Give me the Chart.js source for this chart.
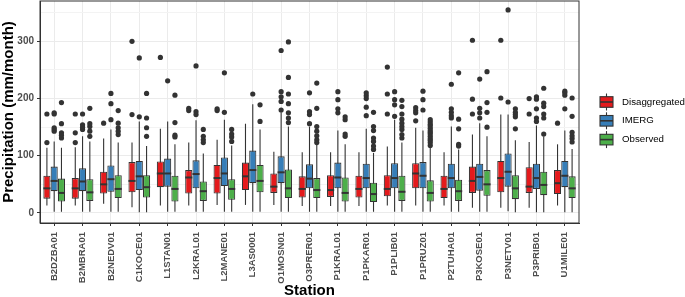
<!DOCTYPE html>
<html>
<head>
<meta charset="utf-8">
<script src="https://cdn.jsdelivr.net/npm/chart.js@4.4.0/dist/chart.umd.min.js"></script>
<style>
  html, body { margin: 0; padding: 0; background: #fff; }
  #wrap { width: 685px; height: 297px; position: relative; }
</style>
</head>
<body>
<div id="wrap"><canvas id="chart"></canvas></div>
<script>
/*
  ==================================================
  ====================== DATA ======================
  ==================================================
*/

const stations = ['B2DZBA01', 'B2MBRA01', 'B2NEDV01', 'C1KOCE01', 'L1STAN01', 'L2KRAL01', 'L2MANE01',
  'L3AS0001', 'O1MOSN01', 'O3PRER01', 'P1KRAL01', 'P1PKAR01', 'P1PLIB01', 'P1PRUZ01', 'P2TUHA01',
  'P3KOSE01', 'P3NETV01', 'P3PRIB01', 'U1MILE01'];

const seriesNames = ['Disaggregated', 'IMERG', 'Observed'];
const yTicks = [0, 50, 100, 150, 200, 250, 300, 350];

// [lower whisker, q1, median, q3, upper whisker]
const disaggregated = [
  [13, 25, 43, 65, 114], [13, 25, 43, 61, 115], [16, 34, 50, 72, 130], [10, 36, 56, 89, 123],
  [13, 45, 69, 90, 147], [13, 34, 62, 75, 123], [14, 34, 61, 84, 128], [14, 40, 64, 88, 156],
  [14, 35, 46, 69, 107], [12, 27, 42, 64, 106], [12, 28, 40, 66, 106], [12, 27, 42, 65, 106],
  [13, 29, 42, 66, 116], [13, 43, 69, 87, 149], [13, 26, 42, 65, 106], [9, 35, 56, 81, 137],
  [9, 36, 61, 91, 172], [9, 35, 46, 80, 124], [13, 33, 52, 75, 120]
];
const imerg = [
  [2, 38, 56, 81, 125], [2, 38, 55, 78, 134], [2, 37, 59, 83, 146], [1, 40, 64, 91, 160],
  [2, 46, 69, 95, 160], [2, 43, 68, 92, 162], [2, 47, 69, 97, 163], [2, 52, 75, 109, 190],
  [2, 52, 71, 99, 176], [2, 43, 60, 85, 151], [2, 43, 62, 88, 144], [2, 43, 61, 86, 147],
  [2, 43, 61, 87, 163], [2, 43, 65, 89, 144], [2, 43, 61, 86, 151], [2, 39, 63, 86, 157],
  [3, 46, 72, 104, 172], [1, 42, 61, 86, 153], [1, 45, 65, 91, 144]
];
const observed = [
  [2, 20, 35, 60, 114], [2, 21, 36, 59, 125], [2, 26, 42, 66, 123], [1, 27, 45, 66, 117],
  [2, 20, 42, 65, 120], [2, 21, 38, 55, 104], [2, 23, 42, 59, 118], [2, 36, 56, 84, 146],
  [2, 26, 43, 76, 151], [2, 26, 40, 61, 120], [2, 20, 35, 62, 120], [2, 19, 33, 53, 105],
  [2, 21, 37, 65, 123], [2, 20, 35, 57, 114], [2, 21, 38, 58, 111], [2, 30, 50, 75, 134],
  [1, 24, 43, 66, 127], [1, 31, 49, 72, 134], [1, 26, 43, 64, 112]
];

const disaggregatedOut = [
  [123, 173], [123, 140, 173], [157], [172, 300], [272], [179, 183], [179, 182], [], [], [], [], [],
  [173, 208, 255], [161, 175, 179, 184], [], [173, 199, 302], [201, 302], [173, 200], [157]
];
const imergOut = [
  [143, 146, 149, 173, 175], [146, 150, 154, 173], [163, 191, 209], [168, 271], [231], [172, 177, 257],
  [176, 245], [208], [180, 195, 203, 212, 284], [156, 172, 177, 210], [175, 182, 198, 212],
  [170, 185, 200, 205, 210], [169, 189, 198, 212], [180, 198, 213], [166, 170, 176, 182, 225],
  [166, 175, 183, 234], [194, 355], [160, 166, 182, 199, 203], [182, 206, 210, 213]
];
const observedOut = [
  [131, 136, 140, 156, 193], [134, 143, 151, 156, 183], [137, 143, 149, 157, 179], [134, 149, 166, 209],
  [133, 136, 158, 206], [123, 128, 134, 146], [125, 133, 138, 146], [160, 189],
  [158, 166, 175, 191, 208, 237, 299], [123, 128, 135, 143, 151, 183, 227], [134, 138, 163, 168],
  [111, 117, 125, 131, 144, 151, 176], [131, 137, 146, 151, 157, 164, 173, 186, 197],
  [118, 123, 127, 130, 134, 138, 141, 144, 148, 152, 155, 159, 163], [117, 120, 147, 164, 245],
  [150, 176, 193, 247], [147, 168, 172, 176, 182], [138, 166, 173, 186, 192, 218],
  [124, 130, 135, 141, 169, 201]
];

/*
  ==================================================
  ===================== CHART ======================
  ==================================================
*/

const colors = ['#E41A1C', '#377EB8', '#4DAF4A'];
const stats = [disaggregated, imerg, observed];
const outliers = [disaggregatedOut, imergOut, observedOut];
const ink = '#333333';

Chart.defaults.font.family = '"Liberation Sans", Arial, sans-serif';

let boxParts = {
  id: 'boxParts',
  beforeDatasetsDraw(chart) {
    let { ctx } = chart;
    let y = chart.scales.y;
    ctx.save();
    ctx.strokeStyle = ink;
    ctx.lineWidth = 1.1;
    stats.forEach((rows, i) => {
      chart.getDatasetMeta(i).data.forEach((bar, j) => {
        let [lo, , , , hi] = rows[j];
        ctx.beginPath();
        ctx.moveTo(bar.x, y.getPixelForValue(lo));
        ctx.lineTo(bar.x, y.getPixelForValue(hi));
        ctx.stroke();
      });
    });
    ctx.restore();
  },
  afterDatasetsDraw(chart) {
    let { ctx } = chart;
    let y = chart.scales.y;
    ctx.save();
    ctx.strokeStyle = ink;
    ctx.fillStyle = ink;
    stats.forEach((rows, i) => {
      chart.getDatasetMeta(i).data.forEach((bar, j) => {
        let med = y.getPixelForValue(rows[j][2]);
        ctx.lineWidth = 2;
        ctx.beginPath();
        ctx.moveTo(bar.x - bar.width / 2, med);
        ctx.lineTo(bar.x + bar.width / 2, med);
        ctx.stroke();

        outliers[i][j].forEach(v => {
          ctx.beginPath();
          ctx.arc(bar.x, y.getPixelForValue(v), 2.6, 0, Math.PI * 2);
          ctx.fill();
        });
      });
    });
    ctx.restore();
  },
  afterDraw(chart) {
    let { ctx, chartArea: a } = chart;
    ctx.save();
    // panel border
    ctx.strokeStyle = ink;
    ctx.lineWidth = 1;
    ctx.strokeRect(a.left, a.top, a.right - a.left, a.bottom - a.top);

    // legend
    let keyX = a.right + 21, keyW = 13;
    seriesNames.forEach((name, i) => {
      let yc = 102 + i * 18.8;
      ctx.strokeStyle = ink;
      ctx.lineWidth = 1.1;
      ctx.beginPath();
      ctx.moveTo(keyX + keyW / 2, yc - 8.5);
      ctx.lineTo(keyX + keyW / 2, yc + 8.5);
      ctx.stroke();
      ctx.fillStyle = colors[i];
      ctx.fillRect(keyX, yc - 5.3, keyW, 10.6);
      ctx.strokeRect(keyX, yc - 5.3, keyW, 10.6);
      ctx.lineWidth = 1.6;
      ctx.beginPath();
      ctx.moveTo(keyX, yc);
      ctx.lineTo(keyX + keyW, yc);
      ctx.stroke();

      ctx.fillStyle = '#000';
      ctx.font = '9.7px "Liberation Sans", Arial, sans-serif';
      ctx.textBaseline = 'middle';
      ctx.textAlign = 'left';
      ctx.fillText(name, keyX + keyW + 9, yc);
    });
    ctx.restore();
  }
};

new Chart(document.getElementById('chart'), {
  type: 'bar',
  data: {
    labels: stations,
    datasets: seriesNames.map((name, i) => ({
      label: name,
      data: stats[i].map(r => [r[1], r[3]]),
      backgroundColor: colors[i],
      borderColor: ink,
      borderWidth: 1.1,
      borderSkipped: false,
      categoryPercentage: 0.77,
      barPercentage: 0.98
    }))
  },
  options: {
    responsive: true,
    maintainAspectRatio: false,
    animation: false,
    layout: { padding: { top: 1, right: 106, left: 0, bottom: 0 } },
    plugins: {
      legend: { display: false },
      tooltip: { enabled: false }
    },
    scales: {
      x: {
        grid: { offset: false, color: '#EBEBEB', lineWidth: 1, tickColor: ink, tickLength: 3 },
        border: { display: true, color: ink },
        ticks: {
          autoSkip: false, minRotation: 90, maxRotation: 90, padding: 6,
          color: '#4D4D4D', font: { size: 9.5, weight: 'bold' }
        },
        title: {
          display: true, text: 'Station', color: '#000',
          font: { size: 15, weight: 'bold' }, padding: { top: 0, bottom: -3 }
        },
        afterFit: s => { s.height = 74; s.paddingLeft = 0; s.paddingRight = 0; }
      },
      y: {
        min: -17.6,
        max: 370.6,
        afterBuildTicks: axis => { axis.ticks = yTicks.map(v => ({ value: v })); },
        grid: {
          color: c => c.tick && c.tick.value % 100 === 0 ? '#EBEBEB' : '#F3F3F3',
          tickColor: c => c.tick && c.tick.value % 100 === 0 ? ink : 'rgba(0,0,0,0)',
          tickLength: 3
        },
        border: { display: true, color: ink },
        ticks: {
          padding: 3, color: '#4D4D4D', font: { size: 10, weight: 'bold' },
          callback: v => v % 100 === 0 ? v : ''
        },
        title: {
          display: true, text: 'Precipitation (mm/month)', color: '#000',
          font: { size: 15, weight: 'bold' }, padding: { top: 0, bottom: 0 }
        },
        afterFit: s => { s.width = 40; s.paddingTop = 0; s.paddingBottom = 0; }
      }
    }
  },
  plugins: [boxParts]
});
</script>
</body>
</html>
